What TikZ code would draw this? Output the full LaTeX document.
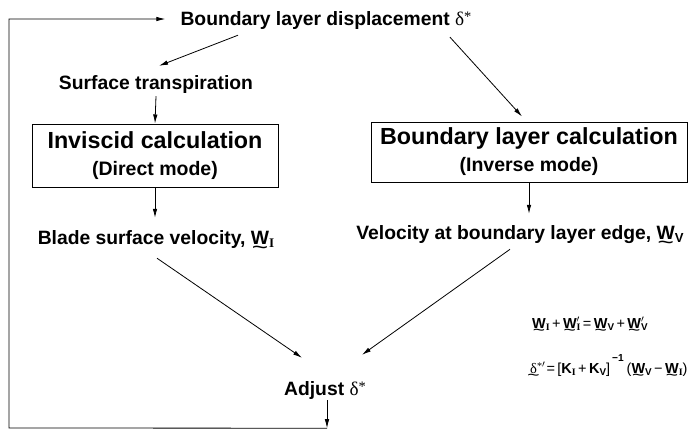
\documentclass[tikz,border=0pt]{standalone}
\usepackage{fontspec}
\usepackage{graphicx}
\setmainfont{Liberation Sans}
\newfontfamily\serif{Liberation Serif}
\usetikzlibrary{arrows.meta,calc}
\newcommand\tw[1]{\leavevmode\setbox0\hbox{#1}\rlap{\hbox to\wd0{\hss\raisebox{-0.52em}[0pt][0pt]{\mdseries\scalebox{1.45}[1.1]{\char"7E}}\hss}}\box0}
\newcommand\sbs[1]{\raisebox{-0.35ex}{\scalebox{0.68}{#1}}}
\newcommand\prm{\rlap{$^{\prime}$}}
\newcommand\op[1]{{\mdseries\,#1\,}}
\newcommand\dst{{\serif\mdseries δ\raisebox{0.45ex}{\scalebox{0.75}{*}}}}
\tikzset{
  lbl/.style={font=\fontsize{19.3}{22}\selectfont\bfseries, inner sep=0pt, anchor=base},
  calcbox/.style={draw, line width=1pt, inner sep=0pt, align=center,
    font=\fontsize{19.5}{27}\selectfont\bfseries},
  eqn/.style={font=\fontsize{14.5}{17}\selectfont\bfseries, inner sep=0pt, anchor=base west},
  arr/.style={-{Latex[length=9pt,width=4.5pt]}, line width=0.8pt},
  ln/.style={line width=0.8pt}
}
\begin{document}
\begin{tikzpicture}[x=1pt,y=-1pt]
\useasboundingbox (0,0) rectangle (689,432);
\node[lbl] (top) at (326,25) {Boundary layer displacement \dst};
\node[lbl] (surf) at (156,89) {Surface transpiration};
\node[calcbox, minimum width=246, minimum height=63] (inv) at (155,155.5)
  {{\fontsize{23.3}{27}\selectfont Inviscid calculation}\\(Direct mode)};
\node[calcbox, minimum width=316, minimum height=60] (bl) at (529,152)
  {{\fontsize{23.3}{27}\selectfont Boundary layer calculation}\\(Inverse mode)};
\node[lbl] (blade) at (156,244) {Blade surface velocity, \tw{W}\sbs{\serif I}};
\node[lbl] (vel) at (520,239) {Velocity at boundary layer edge, \tw{W}\sbs{V}};
\node[lbl] (adj) at (325,395) {Adjust \dst};
\node[eqn] (eq1) at (532,328) {\tw{W}\sbs{\serif I}\op{+}\tw{W}\prm\sbs{\serif I}\op{=}\tw{W}\sbs{V}\op{+}\tw{W}\prm\sbs{V}};
\node[eqn] (eq2) at (530,373) {\tw{\serif\mdseries δ}\raisebox{0.5ex}{\scalebox{0.7}{\serif\mdseries *}}\prm\hspace{2pt}\op{=}{\mdseries[}K\sbs{\serif I}\op{+}K\sbs{V}{\mdseries]}\hspace{2pt}\raisebox{1.5ex}{\scalebox{0.7}{−1}}\hspace{3pt}{\mdseries(}\tw{W}\sbs{V}\op{−}\tw{W}\sbs{\serif I}{\mdseries)}};

\coordinate (c1) at ($(adj.south)+(2,29)$);
\coordinate (c2) at (9,428);
\draw[arr] ($(adj.south)+(2,1)$) -- (c1);
\draw[arr] (c1) -- (c2) |- ($(top.west)+(-15,-1)$);
\draw[arr] ($(top.south)+(-88,6)$) -- ($(surf.north)+(3,-9)$);
\draw[arr] ($(top.south)+(124,8)$) -- ($(bl.north)+(-7,-5)$);
\draw[arr] ($(surf.south)+(0,3)$) -- (inv.north);
\draw[arr] (inv.south) -- ($(inv.south |- blade.north)+(0,-12)$);
\draw[arr] (bl.south) -- ($(bl.south |- vel.north)+(0,-11)$);
\draw[arr] ($(blade.south)+(1,10)$) -- ($(adj.north)+(-23,-23)$);
\draw[arr] ($(vel.south)+(-10,6)$) -- ($(adj.north)+(37,-26)$);
\end{tikzpicture}
\end{document}
